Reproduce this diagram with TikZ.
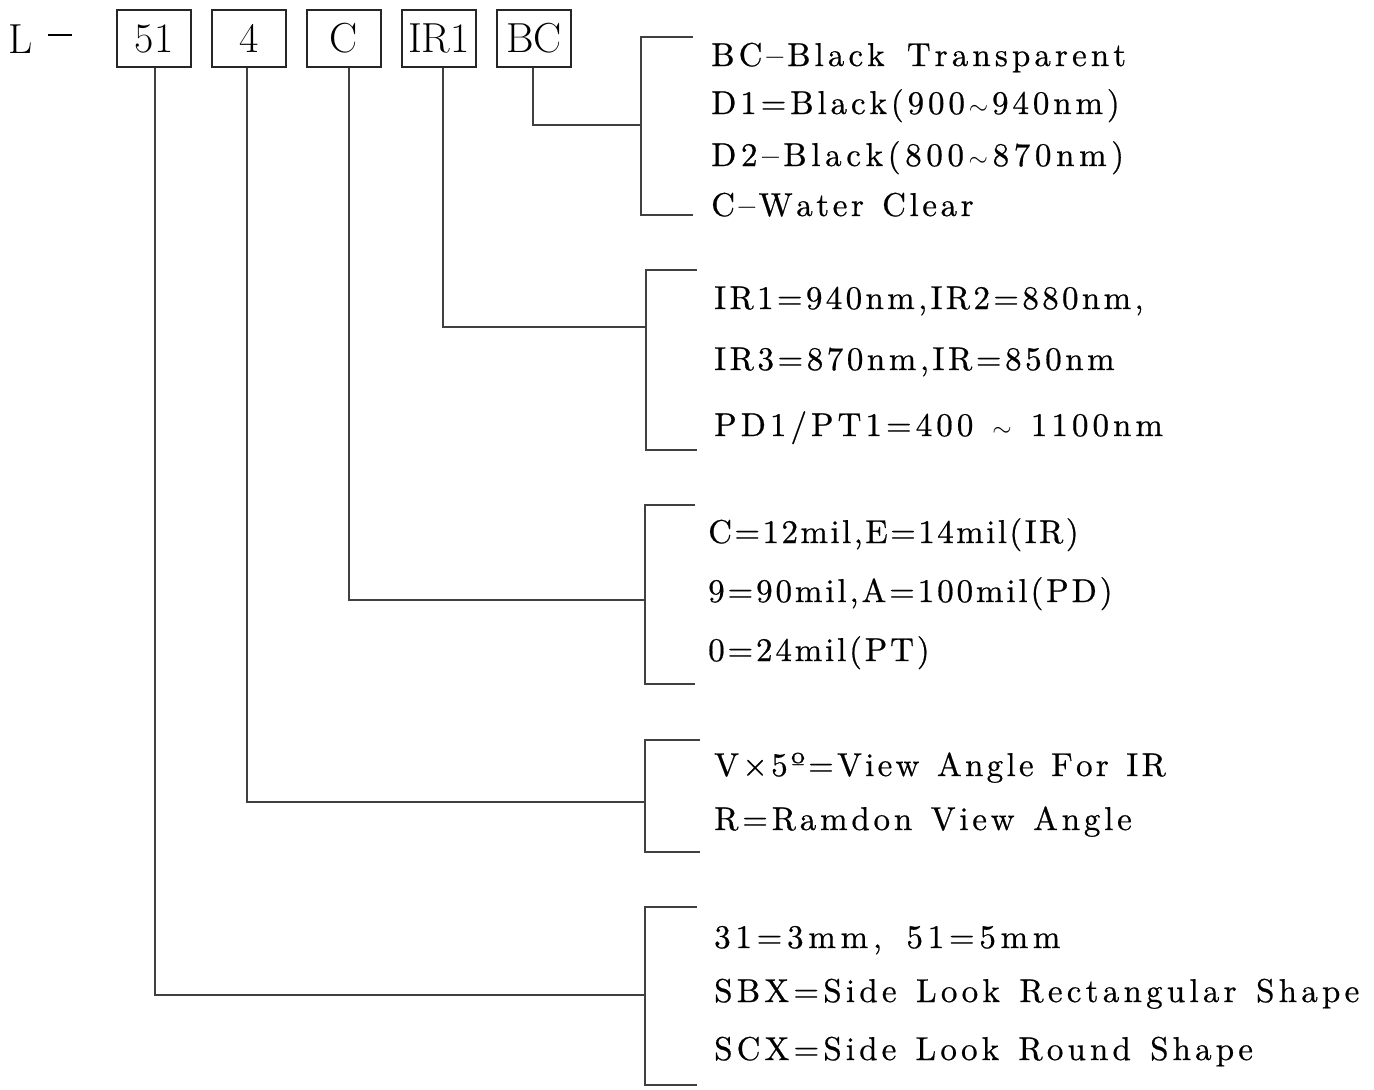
\documentclass[tikz,border=0pt]{standalone}
\usepackage{fontspec}
\newfontfamily\descfont{lmroman10-regular.otf}[FakeBold=0.6]
\ExplSyntaxOn
\NewDocumentCommand \spc { O{5pt} O{0pt} m }
  {
    \str_map_inline:nn {#3}
      {
        \str_if_eq:nnTF {##1} {@}
          { $\sim$ }
          {
            \str_if_eq:nnTF {##1} {~}
              { \c_space_tl \kern #2 \scan_stop: }
              { ##1 }
          }
        \kern #1 \scan_stop:
      }
  }
\ExplSyntaxOff
\begin{document}
\begin{tikzpicture}[x=1pt,y=-1pt,
  codebox/.style={draw=black!85,line width=1.3pt,minimum width=74pt,minimum height=57pt,inner sep=0pt,
    font=\fontsize{42}{42}\selectfont},
  wire/.style={draw=black!75,line width=1.3pt},
  desc/.style={anchor=base west,inner sep=0pt,
    font=\descfont\fontsize{33}{40}\selectfont}]
\useasboundingbox (0,0) rectangle (1374,1090);
% top row
\node[anchor=base west,inner sep=0pt,font=\fontsize{42}{42}\selectfont] (L) at (8,53)
  {L\hspace{15.5pt}\rule[17.5pt]{24pt}{1.8pt}};
\node[codebox] (b1) at (154,38.5) {51};
\node[codebox] (b2) at (249,38.5) {4};
\node[codebox] (b3) at (344,38.5) {C};
\node[codebox] (b4) at (439,38.5) {IR1};
\node[codebox] (b5) at (534,38.5) {BC};
% bracket junctions
\coordinate (k5) at (641,125);
\coordinate (k4) at (646,327);
\coordinate (k3) at (645,600);
\coordinate (k2) at (645,802);
\coordinate (k1) at (645,995);
\draw[wire] ([xshift=-1pt]b5.south) |- (k5);
\draw[wire] ([xshift=4pt]b4.south) |- (k4);
\draw[wire] ([xshift=5pt]b3.south) |- (k3);
\draw[wire] ([xshift=-2pt]b2.south) |- (k2);
\draw[wire] ([xshift=1pt]b1.south) |- (k1);
% brackets
\draw[wire] (693,37) -- (641,37) -- (641,215) -- (693,215);
\draw[wire] (697,270) -- (646,270) -- (646,450) -- (697,450);
\draw[wire] (695,505) -- (645,505) -- (645,684) -- (695,684);
\draw[wire] (700,740) -- (645,740) -- (645,852) -- (700,852);
\draw[wire] (697,907) -- (645,907) -- (645,1085) -- (697,1085);
% group 1
\node[desc] (t11) at (711,66) {\spc[4.1pt][3pt]{BC–Black Transparent}};
\node[desc] (t12) at (711,114) {\spc[3.9pt]{D1=Black(900@940nm)}};
\node[desc] (t13) at (711,166) {\spc[4.65pt]{D2–Black(800@870nm)}};
\node[desc] (t14) at (711,216) {\spc[3.6pt]{C–Water Clear}};
% group 2
\node[desc] (t21) at (714,309) {\spc[3.35pt]{IR1=940nm,IR2=880nm,}};
\node[desc] (t22) at (714,370) {\spc[3.55pt]{IR3=870nm,IR=850nm}};
\node[desc] (t23) at (714,436) {\spc[4.05pt]{PD1/PT1=400 @ 1100nm}};
% group 3
\node[desc] (t31) at (708,543) {\spc[2.45pt]{C=12mil,E=14mil(IR)}};
\node[desc] (t32) at (708,602) {\spc[2.9pt]{9=90mil,A=100mil(PD)}};
\node[desc] (t33) at (708,661) {\spc[2.85pt]{0=24mil(PT)}};
% group 4
\node[desc] (t41) at (714,776) {\spc[3.3pt]{V×5º=View Angle For IR}};
\node[desc] (t42) at (714,830) {\spc[3.8pt]{R=Ramdon View Angle}};
% group 5
\node[desc] (t51) at (714,948) {\spc[4.75pt][4pt]{31=3mm, 51=5mm}};
\node[desc] (t52) at (714,1002) {\spc[4.25pt]{SBX=Side Look Rectangular Shape}};
\node[desc] (t53) at (714,1060) {\spc[4.15pt]{SCX=Side Look Round Shape}};
\end{tikzpicture}
\end{document}
